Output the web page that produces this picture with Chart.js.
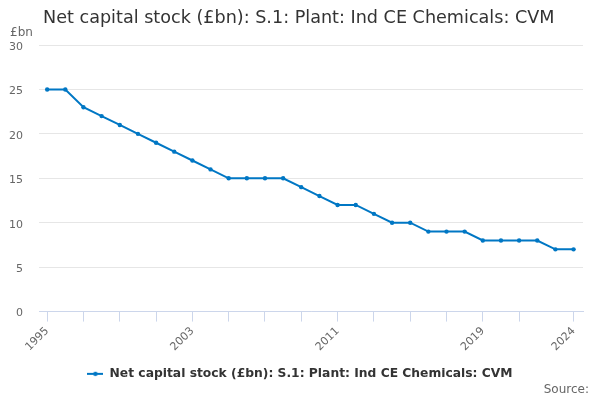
<!DOCTYPE html>
<html>
<head>
<meta charset="utf-8">
<script src="https://cdn.jsdelivr.net/npm/chart.js@4"></script>
<style>
  html, body { margin: 0; padding: 0; background: #fff; }
  #wrap { width: 600px; height: 400px; }
</style>
</head>
<body>
<div id="wrap"><canvas id="grafico"></canvas></div>
<script>
// dados
var anos = [1995, 1996, 1997, 1998, 1999, 2000, 2001, 2002, 2003, 2004,
    2005, 2006, 2007, 2008, 2009, 2010, 2011, 2012, 2013, 2014,
    2015, 2016, 2017, 2018, 2019, 2020, 2021, 2022, 2023, 2024];
var valores = [25, 25, 23, 22, 21, 20, 19, 18, 17, 16,
    15, 15, 15, 15, 14, 13, 12, 12, 11, 10,
    10, 9, 9, 9, 8, 8, 8, 8, 7, 7];
var anosRotulo = [1995, 2003, 2011, 2019, 2024];
var anosTick = [1995, 1997, 1999, 2001, 2003, 2005, 2007, 2009, 2011, 2013,
    2015, 2017, 2019, 2021, 2024];
var ticksY = [0, 5, 10, 15, 20, 25, 30];

var titulo = 'Net capital stock (£bn): S.1: Plant: Ind CE Chemicals: CVM';
var nomeSerie = 'Net capital stock (£bn): S.1: Plant: Ind CE Chemicals: CVM';
var azul = '#0077c4';

var pontos = anos.map(function(a, i) { return { x: a, y: valores[i] }; });

// marcador da legenda: linha com ponto
var marcador = document.createElement('canvas');
marcador.width = 16;
marcador.height = 6;
var mctx = marcador.getContext('2d');
mctx.strokeStyle = azul;
mctx.lineWidth = 2;
mctx.beginPath();
mctx.moveTo(0, 3);
mctx.lineTo(16, 3);
mctx.stroke();
mctx.fillStyle = azul;
mctx.beginPath();
mctx.arc(8, 3, 2.2, 0, Math.PI * 2);
mctx.fill();

// textos extras: titulo, unidade e fonte
var textosExtras = {
    id: 'textosExtras',
    afterDraw: function(chart) {
        var ctx = chart.ctx;
        ctx.save();
        ctx.fillStyle = '#333333';
        ctx.font = '17.6px "DejaVu Sans"';
        ctx.textBaseline = 'middle';
        ctx.textAlign = 'left';
        ctx.fillText(titulo, 43, 18);
        ctx.fillStyle = '#666666';
        ctx.font = '12px "DejaVu Sans"';
        ctx.fillText('£bn', 10, 33);
        ctx.textAlign = 'right';
        ctx.fillText('Source:', 589, 390);
        ctx.restore();
    }
};

const ctx = document.getElementById('grafico').getContext('2d');

new Chart(ctx, {
    type: 'line',
    data: {
        datasets: [{
            label: nomeSerie,
            data: pontos,
            borderColor: azul,
            backgroundColor: azul,
            borderWidth: 2,
            pointRadius: 2.2,
            pointBorderWidth: 0,
            pointHoverRadius: 3,
            tension: 0
        }]
    },
    options: {
        responsive: true,
        maintainAspectRatio: false,
        animation: false,
        layout: {
            padding: { top: 45, right: 0, bottom: 10, left: 0 }
        },
        plugins: {
            tooltip: { enabled: false },
            legend: {
                position: 'bottom',
                labels: {
                    color: '#333333',
                    font: { family: 'DejaVu Sans', size: 12.3, weight: 'bold' },
                    usePointStyle: true,
                    pointStyleWidth: 16,
                    padding: 11,
                    generateLabels: function(chart) {
                        var itens = Chart.defaults.plugins.legend.labels.generateLabels(chart);
                        itens.forEach(function(it) { it.pointStyle = marcador; });
                        return itens;
                    }
                }
            }
        },
        scales: {
            x: {
                type: 'linear',
                min: 1994.55,
                max: 2024.52,
                afterBuildTicks: function(axis) {
                    axis.ticks = anosTick.map(function(a) { return { value: a }; });
                },
                ticks: {
                    autoSkip: false,
                    maxRotation: 45,
                    minRotation: 45,
                    color: '#666666',
                    font: { family: 'DejaVu Sans', size: 11 },
                    callback: function(v) {
                        return anosRotulo.indexOf(v) >= 0 ? String(v) : '';
                    }
                },
                grid: {
                    drawOnChartArea: false,
                    drawTicks: true,
                    tickLength: 10,
                    color: '#ccd6eb'
                },
                border: { color: '#ccd6eb', width: 1 }
            },
            y: {
                min: 0,
                max: 30,
                afterBuildTicks: function(axis) {
                    axis.ticks = ticksY.map(function(v) { return { value: v }; });
                },
                afterFit: function(axis) {
                    axis.width = 39;
                },
                ticks: {
                    color: '#666666',
                    font: { family: 'DejaVu Sans', size: 11 },
                    padding: 16,
                    labelOffset: 2
                },
                grid: {
                    color: '#e6e6e6',
                    drawTicks: false
                },
                border: { display: false }
            },
            // eixo vazio so para reservar a margem direita
            margemDireita: {
                position: 'right',
                min: 0,
                max: 30,
                afterFit: function(axis) {
                    axis.width = 17;
                },
                ticks: { display: false },
                grid: { display: false },
                border: { display: false }
            }
        }
    },
    plugins: [textosExtras]
});
</script>
</body>
</html>
